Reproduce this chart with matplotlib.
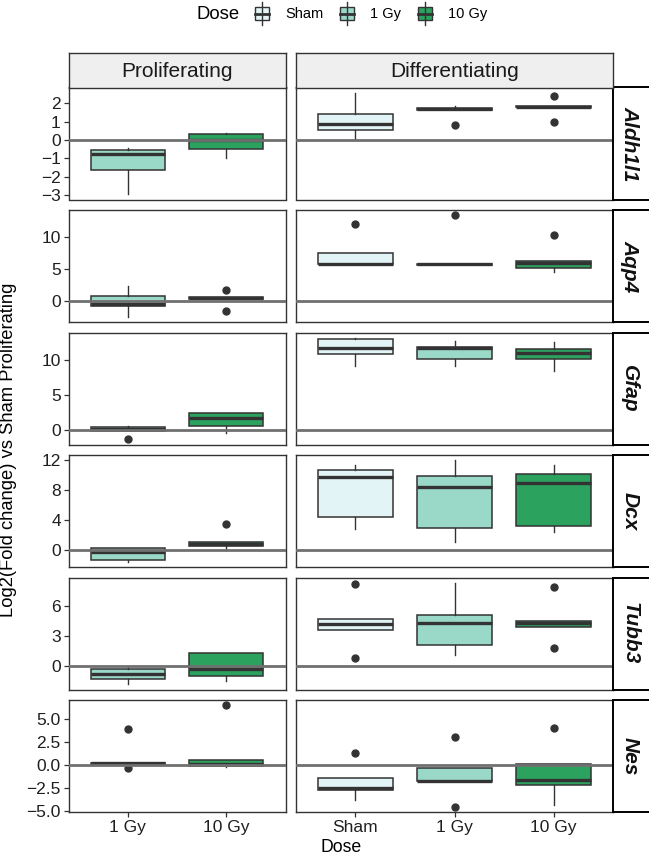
import matplotlib
matplotlib.use("Agg")
import matplotlib.pyplot as plt
from matplotlib.patches import Rectangle

plt.rcParams['font.family'] = ['Liberation Sans', 'DejaVu Sans']

genes = ["Aldh1l1", "Aqp4", "Gfap", "Dcx", "Tubb3", "Nes"]
prolif_doses = ["1 Gy", "10 Gy"]
diff_doses = ["Sham", "1 Gy", "10 Gy"]
dose_colors = {"Sham": "#e3f4f7", "1 Gy": "#9ad8c8", "10 Gy": "#2ca25f"}

# each box: [whislo, q1, med, q3, whishi]
aldh1l1_prolif = [[-2.96, -1.62, -0.76, -0.56, -0.42], [-1.0, -0.47, -0.02, 0.35, 0.40]]
aldh1l1_prolif_out = [[], []]
aldh1l1_diff = [[0.04, 0.53, 0.86, 1.44, 2.59], [1.64, 1.64, 1.69, 1.74, 1.86], [1.80, 1.80, 1.83, 1.86, 1.86]]
aldh1l1_diff_out = [[], [0.82], [2.40, 0.98]]

aqp4_prolif = [[-2.58, -0.9, -0.6, 0.68, 2.26], [0.32, 0.32, 0.42, 0.55, 0.55]]
aqp4_prolif_out = [[], [1.74, -1.69]]
aqp4_diff = [[5.69, 5.69, 5.8, 7.53, 7.53], [5.6, 5.6, 5.69, 5.78, 5.78], [4.47, 5.1, 5.95, 6.16, 6.16]]
aqp4_diff_out = [[12.0], [13.47], [10.27]]

gfap_prolif = [[-0.15, -0.15, 0.2, 0.47, 0.61], [-0.33, 0.61, 1.71, 2.42, 2.42]]
gfap_prolif_out = [[-1.28], []]
gfap_diff = [[9.15, 10.85, 11.76, 13.04, 13.22], [9.15, 10.14, 11.78, 11.85, 12.76], [8.53, 10.14, 11.04, 11.56, 12.57]]
gfap_diff_out = [[], [], []]

dcx_prolif = [[-1.54, -1.25, -0.27, 0.36, 0.36], [0.1, 0.54, 0.8, 1.08, 1.08]]
dcx_prolif_out = [[], [3.5]]
dcx_diff = [[2.79, 4.4, 9.75, 10.78, 11.45], [1.08, 3.0, 8.49, 9.97, 12.04], [2.43, 3.19, 8.99, 10.24, 11.32]]
dcx_diff_out = [[], [], []]

tubb3_prolif = [[-1.89, -1.39, -0.81, -0.3, -0.14], [-1.59, -1.01, -0.37, 1.31, 1.31]]
tubb3_prolif_out = [[], []]
tubb3_diff = [[3.64, 3.64, 4.21, 4.68, 4.68], [1.07, 2.08, 4.31, 5.09, 8.39], [3.87, 3.87, 4.3, 4.51, 4.51]]
tubb3_diff_out = [[8.22, 0.81], [], [7.95, 1.78]]

nes_prolif = [[0.1, 0.12, 0.18, 0.24, 0.24], [-0.2, -0.14, 0.1, 0.58, 0.58]]
nes_prolif_out = [[3.94, -0.28], [6.54]]
nes_diff = [[-3.82, -2.74, -2.45, -1.41, -1.41], [-1.76, -1.76, -1.7, -0.28, -0.28], [-4.36, -2.12, -1.58, 0.15, 0.15]]
nes_diff_out = [[1.3], [3.1, -4.55], [4.0]]

yticks = [[-3, -2, -1, 0, 1, 2], [0, 5, 10], [0, 5, 10], [0, 4, 8, 12], [0, 3, 6], [-5, -2.5, 0, 2.5, 5]]
ytick_labels = [["−3", "−2", "−1", "0", "1", "2"], ["0", "5", "10"], ["0", "5", "10"],
                ["0", "4", "8", "12"], ["0", "3", "6"], ["−5.0", "−2.5", "0.0", "2.5", "5.0"]]

prolif_all = [aldh1l1_prolif, aqp4_prolif, gfap_prolif, dcx_prolif, tubb3_prolif, nes_prolif]
prolif_out_all = [aldh1l1_prolif_out, aqp4_prolif_out, gfap_prolif_out, dcx_prolif_out, tubb3_prolif_out, nes_prolif_out]
diff_all = [aldh1l1_diff, aqp4_diff, gfap_diff, dcx_diff, tubb3_diff, nes_diff]
diff_out_all = [aldh1l1_diff_out, aqp4_diff_out, gfap_diff_out, dcx_diff_out, tubb3_diff_out, nes_diff_out]

W, H = 649, 856
fig = plt.figure(figsize=(W / 100, H / 100), dpi=100)


def px(l, t, r, b):
    return [l / W, 1 - b / H, (r - l) / W, (b - t) / H]


dark = "#333333"
cols = [(68.5, 285.5), (296, 613)]
row_top, row_h, row_gap = 87.5, 112, 10.5


def make_stats(boxes, outs):
    st = []
    for b, o in zip(boxes, outs):
        st.append(dict(whislo=b[0], q1=b[1], med=b[2], q3=b[3], whishi=b[4], fliers=o))
    return st


for i, g in enumerate(genes):
    t = row_top + i * (row_h + row_gap)
    b = t + row_h
    vals = []
    for bx in prolif_all[i] + diff_all[i]:
        vals += bx
    for o in prolif_out_all[i] + diff_out_all[i]:
        vals += o
    lo, hi = min(vals), max(vals)
    pad = 0.05 * (hi - lo)

    for j, (doses, boxes, outs) in enumerate([(prolif_doses, prolif_all[i], prolif_out_all[i]),
                                             (diff_doses, diff_all[i], diff_out_all[i])]):
        ax = fig.add_axes(px(cols[j][0], t, cols[j][1], b))
        pos = list(range(1, len(doses) + 1))
        res = ax.bxp(make_stats(boxes, outs), positions=pos, widths=0.75, patch_artist=True,
                     showcaps=False, manage_ticks=False,
                     boxprops=dict(edgecolor=dark, linewidth=1.1),
                     medianprops=dict(color=dark, linewidth=2.4, solid_capstyle='butt'),
                     whiskerprops=dict(color=dark, linewidth=1.0),
                     flierprops=dict(marker='o', markerfacecolor=dark, markeredgecolor=dark, markersize=5))
        for patch, d in zip(res['boxes'], doses):
            patch.set_facecolor(dose_colors[d])
        ax.axhline(0, color="#707070", linewidth=2.0, zorder=5)
        ax.set_xlim(0.4, len(doses) + 0.6)
        ax.set_ylim(lo - pad, hi + pad)
        for s in ax.spines.values():
            s.set_color(dark)
            s.set_linewidth(1.0)
        ax.tick_params(direction='out', length=3.5, width=0.9, color=dark, labelsize=12.5,
                       labelcolor="#1f1f1f", pad=2)
        if j == 0:
            ax.set_yticks(yticks[i])
            ax.set_yticklabels(ytick_labels[i])
        else:
            ax.set_yticks([])
        if i == len(genes) - 1:
            ax.set_xticks(pos)
            ax.set_xticklabels(doses)
        else:
            ax.set_xticks([])

    # right strip
    sax = fig.add_axes(px(613, t, 660, b))
    sax.set_xticks([])
    sax.set_yticks([])
    sax.set_facecolor("white")
    for s in sax.spines.values():
        s.set_color("black")
        s.set_linewidth(1.4)
    sax.text(0.36, 0.5, g, transform=sax.transAxes, rotation=-90, ha='center', va='center',
             fontsize=15, fontweight='bold', fontstyle='italic', color='#111111')

# top strips
for j, name in enumerate(["Proliferating", "Differentiating"]):
    sax = fig.add_axes(px(cols[j][0], 53, cols[j][1], row_top))
    sax.set_xticks([])
    sax.set_yticks([])
    sax.set_facecolor("#efefef")
    for s in sax.spines.values():
        s.set_color(dark)
        s.set_linewidth(1.0)
    sax.text(0.5, 0.45, name, transform=sax.transAxes, ha='center', va='center',
             fontsize=15, color='#1a1a1a')

# axis titles
fig.text(9 / W, 1 - 450 / H, "Log2(Fold change) vs Sham Proliferating", rotation=90,
         ha='center', va='center', fontsize=13.2, color='black')
fig.text(341 / W, 1 - 848 / H, "Dose", ha='center', va='center', fontsize=12.7, color='black')

# legend
lax = fig.add_axes([0, 0, 1, 1], facecolor='none')
lax.set_xlim(0, W)
lax.set_ylim(H, 0)
lax.axis('off')
lax.text(196, 14, "Dose", ha='left', va='center', fontsize=13.3, color='black')
key_x = [252, 337, 415]
lab_x = [285, 370, 448]
for kx, lx, d in zip(key_x, lab_x, diff_doses):
    lax.plot([kx + 10, kx + 10], [2, 25], color=dark, linewidth=1.0)
    lax.add_patch(Rectangle((kx + 3, 7), 14, 13, facecolor=dose_colors[d], edgecolor=dark, linewidth=1.0))
    lax.plot([kx + 3, kx + 17], [13.5, 13.5], color=dark, linewidth=2.0)
    lax.text(lx, 14, d, ha='left', va='center', fontsize=10.5, color='black')

fig.savefig("out.png", dpi=100)
